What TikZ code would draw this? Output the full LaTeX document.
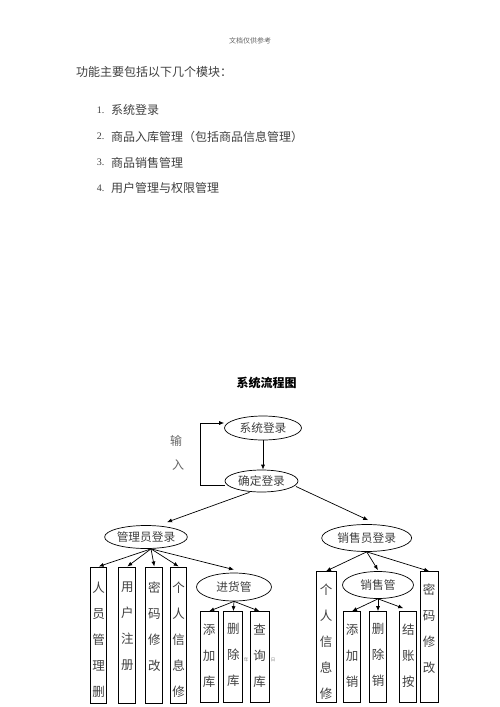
\documentclass[tikz,border=0pt]{standalone}
\usepackage{fontspec}
\setmainfont{Liberation Serif}
\newfontfamily\cjk{Noto Sans CJK SC}
\usetikzlibrary{shapes.geometric,arrows.meta}
\begin{document}
\begin{tikzpicture}[x=1pt,y=-1pt,
  txt/.style={text=black!75, font=\cjk\fontsize{12}{14}\selectfont, inner sep=0pt},
  num/.style={text=black!75, font=\fontsize{10}{12}\selectfont, inner sep=0pt, anchor=west},
  oval/.style={ellipse, draw=black, line width=0.7pt, inner sep=0pt, text=black!75, font=\cjk\fontsize{11.7}{14}\selectfont},
  col/.style={draw=black, line width=1pt, inner sep=0pt},
  coltxt/.style={anchor=north, align=center, inner sep=0pt, text=black!75, font=\cjk\fontsize{12.5}{26}\selectfont},
  arr/.style={-{Latex[length=5pt,width=4pt]}, line width=0.7pt}
]
\useasboundingbox[fill=white] (0,0) rectangle (500,707);

% header and intro text
\node[txt, text=black!60, font=\cjk\fontsize{7}{8}\selectfont] (hdr) at (250,40.7) {文档仅供参考};
\node[txt, anchor=west] (intro) at (76,71.7) {功能主要包括以下几个模块：};
\node[num] (n1) at (96.7,110) {1.};
\node[txt, anchor=west] (i1) at (111,110) {系统登录};
\node[num] (n2) at (96.7,136.7) {2.};
\node[txt, anchor=west] (i2) at (111,136.7) {商品入库管理（包括商品信息管理）};
\node[num] (n3) at (96.7,162.7) {3.};
\node[txt, anchor=west] (i3) at (111,162.7) {商品销售管理};
\node[num] (n4) at (96.7,188.3) {4.};
\node[txt, anchor=west] (i4) at (111,188.3) {用户管理与权限管理};

% title
\node[txt, text=black, font=\cjk\bfseries\fontsize{12}{14}\selectfont] (title) at (266.7,383) {系统流程图};

% top ellipses
\node[oval, minimum width=77pt, minimum height=24pt] (sys) at (263,428) {系统登录};
\node[oval, minimum width=73pt, minimum height=22pt] (conf) at (261.5,481) {确定登录};
\node[txt, text=black!60] (shu) at (176,441) {输};
\node[txt, text=black!60] (ru) at (178,465) {入};
\draw[arr] (sys.south) -- (sys.south |- conf.north);
\draw[arr] ([yshift=-4pt]conf.west) -- ++(-24,0) |- ([yshift=5pt]sys.west);

% second level
\node[oval, minimum width=78pt, minimum height=23pt] (adm) at (146,537) {管理员登录};
\node[oval, minimum width=90pt, minimum height=27pt] (sal) at (366.7,538) {销售员登录};
\draw[arr] ([xshift=-12pt]conf.south) -- ([xshift=21pt,yshift=3pt]adm.north);
\draw[arr] ([xshift=34.5pt,yshift=-5.5pt]conf.center) -- ([xshift=1.5pt,yshift=4pt]sal.north);

% admin branch
\node[col, minimum width=16pt, minimum height=136pt] (b1) at (98.7,635) {};
\node[coltxt] (t1) at ([yshift=-15pt]b1.north) {人\\员\\管\\理\\删};
\node[col, minimum width=16.7pt, minimum height=136pt] (b2) at (127.3,635) {};
\node[coltxt] (t2) at ([yshift=-15pt]b2.north) {用\\户\\注\\册};
\node[col, minimum width=16.7pt, minimum height=136pt] (b3) at (154.3,635) {};
\node[coltxt] (t3) at ([yshift=-15pt]b3.north) {密\\码\\修\\改};
\node[col, minimum width=16pt, minimum height=136pt] (b4) at (178.7,635) {};
\node[coltxt] (t4) at ([yshift=-15pt]b4.north) {个\\人\\信\\息\\修};
\node[oval, minimum width=75pt, minimum height=28pt] (jh) at (234,587) {进货管};
\foreach \b in {b1,b2,b3,b4} \draw[arr] ([xshift=5pt]adm.south) -- (\b.north);
\draw[arr] ([xshift=5pt]adm.south) -- ([yshift=3pt]jh.north);

\node[col, minimum width=18.3pt, minimum height=91pt] (s1) at (209.2,657.2) {};
\node[coltxt] (u1) at ([yshift=-12.3pt]s1.north) {添\\加\\库};
\node[col, minimum width=18.7pt, minimum height=91pt] (s2) at (233.3,657.2) {};
\node[coltxt] (u2) at ([yshift=-12.3pt]s2.north) {删\\除\\库};
\node[col, minimum width=19pt, minimum height=91pt] (s3) at (259.5,657.2) {};
\node[coltxt] (u3) at ([yshift=-12.3pt]s3.north) {查\\询\\库};
\foreach \b in {s1,s2,s3} \draw[arr] (jh.south) -- (\b.north);

% tiny footer fragments
\node[txt, text=black!50, font=\cjk\fontsize{4.5}{5}\selectfont] (f1) at (246,660) {年};
\node[txt, text=black!50, font=\cjk\fontsize{4.5}{5}\selectfont] (f2) at (273,660) {日};

% sales branch
\node[col, minimum width=20pt, minimum height=131.3pt] (r1) at (326,637.3) {};
\node[coltxt] (v1) at ([yshift=-12.3pt]r1.north) {个\\人\\信\\息\\修};
\node[col, minimum width=18.3pt, minimum height=131pt] (r2) at (429.2,637.2) {};
\node[coltxt] (v2) at ([yshift=-12.3pt]r2.north) {密\\码\\修\\改};
\node[oval, minimum width=71pt, minimum height=27pt] (xs) at (378,585) {销售管};
\draw[arr] (sal.south) -- (r1.north);
\draw[arr] (sal.south) -- (r2.north);
\draw[arr] (sal.south) -- ([yshift=1pt]xs.north);

\node[col, minimum width=17.4pt, minimum height=91pt] (q1) at (352,657.2) {};
\node[coltxt] (w1) at ([yshift=-12.3pt]q1.north) {添\\加\\销};
\node[col, minimum width=17.4pt, minimum height=91pt] (q2) at (378,657.2) {};
\node[coltxt] (w2) at ([yshift=-12.3pt]q2.north) {删\\除\\销};
\node[col, minimum width=16.7pt, minimum height=91pt] (q3) at (408.3,657.2) {};
\node[coltxt] (w3) at ([yshift=-12.3pt]q3.north) {结\\账\\按};
\draw[arr] (xs.south) -- (q1.north);
\draw[arr] (xs.south) -- (q2.north);
\draw[arr] (xs.south) -- ([xshift=-5pt,yshift=3pt]q3.north);
\end{tikzpicture}
\end{document}
